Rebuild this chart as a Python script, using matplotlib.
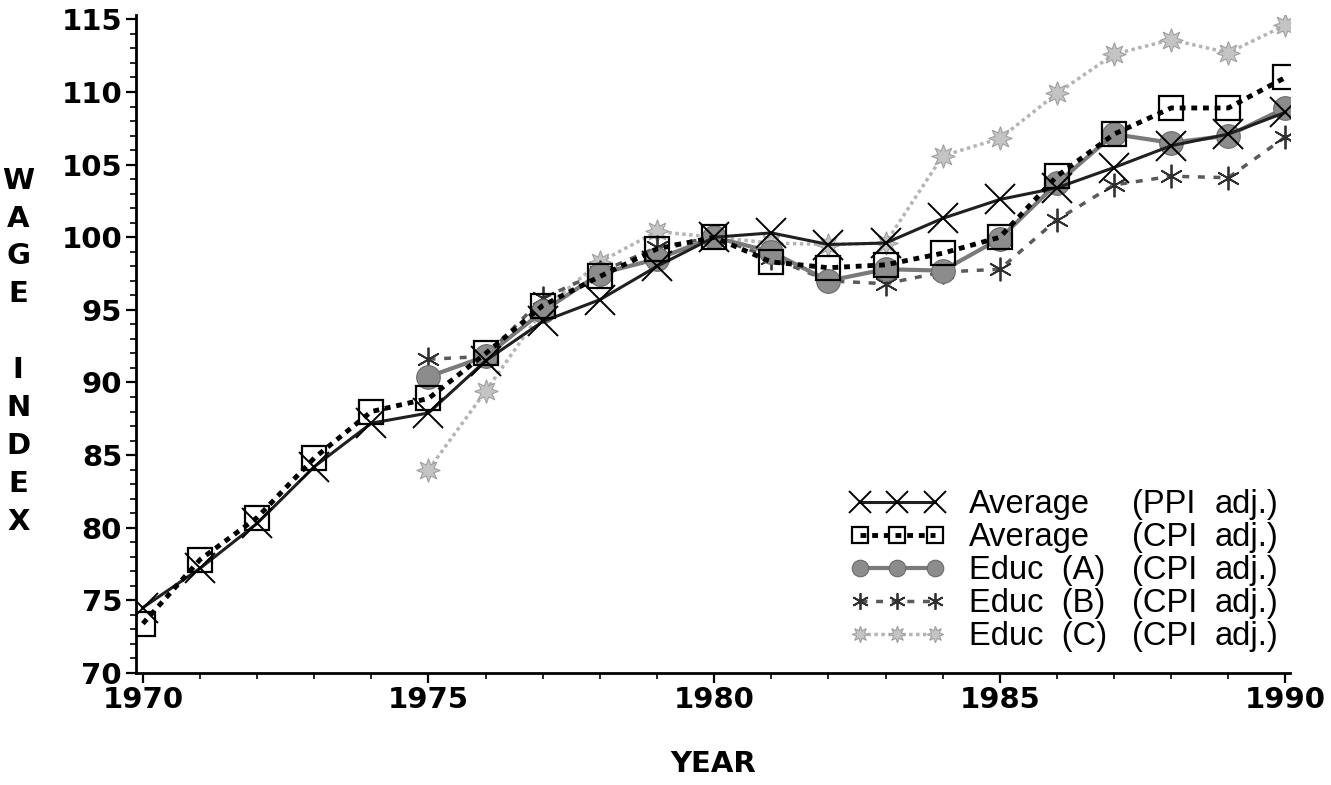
import matplotlib
matplotlib.use("Agg")
import matplotlib.pyplot as plt
from matplotlib.ticker import MultipleLocator
import numpy as np

# ---- data ----
years = list(range(1970, 1991))
avg_ppi = [74.5, 77.2, 80.3, 84.2, 87.2, 87.9, 91.5, 94.2, 95.7, 98.0, 100.0,
           100.3, 99.5, 99.6, 101.3, 102.6, 103.4, 104.8, 106.3, 107.1, 108.6]
avg_cpi = [73.4, 77.8, 80.7, 84.8, 88.0, 88.9, 92.0, 95.3, 97.3, 99.2, 100.0,
           98.3, 97.9, 98.1, 98.9, 100.0, 104.2, 107.1, 108.9, 108.9, 111.0]

educ_years = list(range(1975, 1991))
educ_a = [90.4, 91.8, 94.9, 97.5, 98.5, 100.0, 99.0, 97.0, 97.8, 97.7, 99.9,
          103.7, 107.1, 106.5, 107.0, 108.9]
educ_b = [91.6, 91.8, 95.8, 97.6, 99.3, 100.0, 98.6, 97.0, 96.8, 97.6, 97.8,
          101.2, 103.6, 104.2, 104.1, 106.9]
educ_c = [84.0, 89.4, 95.0, 98.3, 100.4, 100.0, 99.6, 99.5, 99.6, 105.6, 106.8,
          109.9, 112.6, 113.6, 112.7, 114.6]

col1 = ["Average", "Average", "Educ  (A)", "Educ  (B)", "Educ  (C)"]
col2 = ["(PPI", "(CPI", "(CPI", "(CPI", "(CPI"]
col3 = ["adj.)"] * 5

W, H = 1331, 785
fig = plt.figure(figsize=(W / 100, H / 100), dpi=100)
ax = fig.add_axes([136 / W, 1 - 673 / H, (1290 - 136) / W, (673 - 15) / H])

l_c, = ax.plot(educ_years, educ_c, color="#b4b4b4", lw=2.5, ls=(0, (1, 1)),
               marker=(8, 1, 0), ms=17, mfc="#c4c4c4", mec="#a0a0a0", mew=0.8)
l_b, = ax.plot(educ_years, educ_b, color="#5a5a5a", lw=2.5, ls=(0, (2, 2.5)),
               marker=(6, 2, 0), ms=17, mec="#303030", mew=1.3)
l_a, = ax.plot(educ_years, educ_a, color="#7a7a7a", lw=3,
               marker="o", ms=17, mfc="#8c8c8c", mec="#6a6a6a", mew=0.8)
l_p, = ax.plot(years, avg_ppi, color="#202020", lw=2.2,
               marker="x", ms=22, mec="black", mew=1.4)
l_q, = ax.plot(years, avg_cpi, color="black", lw=3.5, ls=(0, (1.2, 1.2)),
               marker="s", ms=17, mfc="none", mec="black", mew=1.6)

ax.set_xlim(1969.88, 1990.08)
ax.set_ylim(70, 115.3)
ax.xaxis.set_major_locator(MultipleLocator(5))
ax.xaxis.set_minor_locator(MultipleLocator(1))
ax.yaxis.set_major_locator(MultipleLocator(5))
ax.yaxis.set_minor_locator(MultipleLocator(1))
for s in ("top", "right"):
    ax.spines[s].set_visible(False)
for s in ("left", "bottom"):
    ax.spines[s].set_linewidth(2)
ax.tick_params(which="major", direction="out", length=7, width=1.6)
ax.tick_params(which="minor", direction="out", length=4, width=1.2)
ax.tick_params(axis="y", pad=3)
ax.tick_params(axis="x", pad=2)
for lab in ax.get_xticklabels() + ax.get_yticklabels():
    lab.set_fontfamily("DejaVu Sans")
    lab.set_fontweight("bold")
    lab.set_fontsize(21)

ax.set_xlabel("YEAR", fontfamily="DejaVu Sans", fontweight="bold", fontsize=21, labelpad=26)
ax.set_ylabel("W\nA\nG\nE\n\nI\nN\nD\nE\nX", rotation=0, fontfamily="DejaVu Sans",
              fontweight="bold", fontsize=21, linespacing=1.45, ha="center", va="center")
ax.yaxis.set_label_coords(-0.102, 0.489)

handles = [l_p, l_q, l_a, l_b, l_c]
leg = ax.legend(handles, col1, loc="lower left", bbox_to_anchor=(850 / W, 1 - 652 / H),
                bbox_transform=fig.transFigure, frameon=False, numpoints=3,
                markerscale=0.7, handlelength=2.9, handletextpad=0.75,
                labelspacing=0.06, borderpad=0, borderaxespad=0,
                prop={"family": "Liberation Sans", "size": 23.5})

fig.canvas.draw()
inv = fig.transFigure.inverted()
for t, a, b in zip(leg.get_texts(), col2, col3):
    xd, yd = t.get_transform().transform(t.get_position())
    _, yf = inv.transform((xd, yd))
    for xp, s in ((1132, a), (1215, b)):
        fig.text(xp / W, yf, s, va=t.get_va(), ha="left",
                 family="Liberation Sans", fontsize=23.5)

fig.savefig("out.png", dpi=100)
